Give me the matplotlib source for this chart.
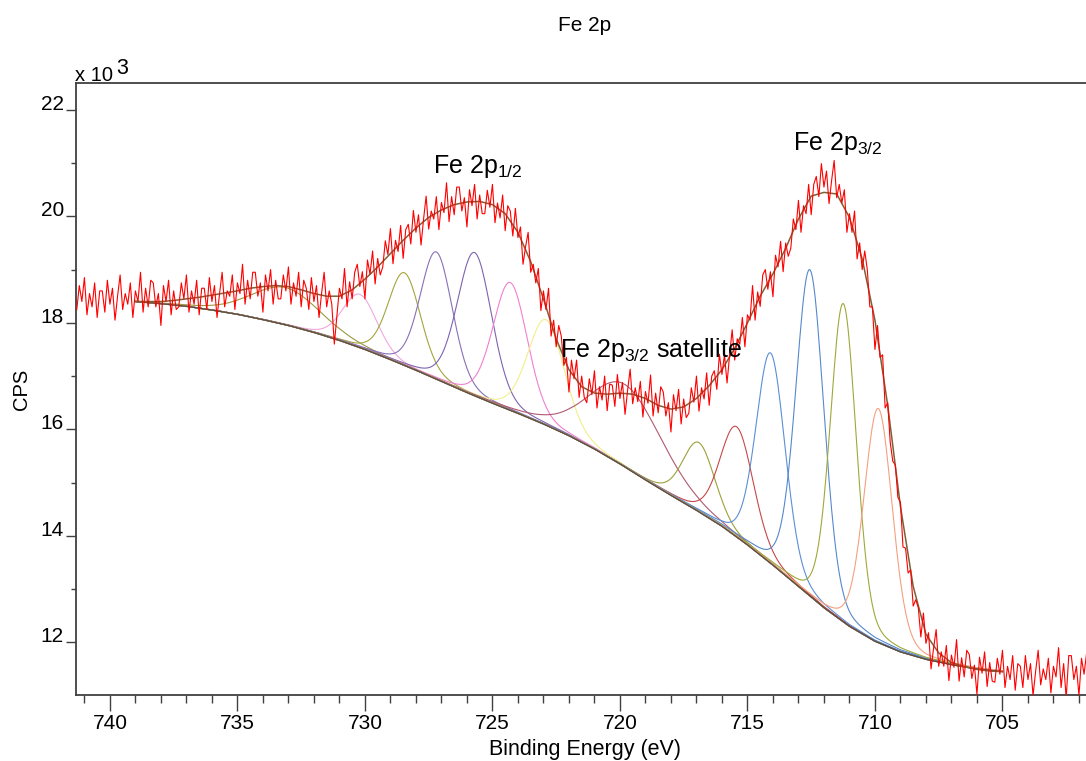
import numpy as np
import matplotlib.pyplot as plt
from matplotlib.ticker import MultipleLocator

plt.rcParams['font.family'] = ['Liberation Sans', 'DejaVu Sans']
plt.rcParams['mathtext.default'] = 'regular'

# ---- data (counts in units of 1000 CPS) ------------------------------------

# raw spectrum, one value every 0.1 eV starting at 741.3 eV (one row = 1 eV)
raw_start, raw_step = 741.3, 0.1
raw_cps = [
    18.25, 18.70, 18.40, 18.85, 18.15, 18.55, 18.30, 18.75, 18.10, 18.60,
    18.60, 18.20, 18.80, 18.35, 18.65, 18.05, 18.50, 18.90, 18.25, 18.55,
    18.35, 18.75, 18.10, 18.60, 18.40, 18.95, 18.20, 18.65, 18.30, 18.80,
    18.75, 18.30, 18.55, 17.95, 18.70, 18.40, 18.80, 18.15, 18.60, 18.25,
    18.30, 18.75, 18.45, 18.90, 18.20, 18.60, 18.35, 18.80, 18.15, 18.65,
    18.65, 18.25, 18.85, 18.40, 18.70, 18.10, 18.55, 18.95, 18.30, 18.60,
    18.50, 18.90, 18.25, 18.75, 18.55, 19.10, 18.35, 18.80, 18.45, 18.95,
    18.95, 18.50, 18.75, 18.20, 18.90, 18.60, 19.00, 18.35, 18.80, 18.45,
    18.45, 18.90, 18.60, 19.05, 18.35, 18.75, 18.50, 18.95, 18.30, 18.80,
    18.65, 18.25, 18.85, 18.40, 18.70, 18.10, 18.55, 18.95, 18.30, 18.60,
    18.35, 17.60, 18.12, 18.65, 18.45, 19.02, 18.30, 18.77, 18.45, 18.95,
    19.10, 18.68, 18.96, 18.45, 19.18, 18.91, 19.35, 18.73, 19.21, 18.90,
    19.05, 19.54, 19.28, 19.77, 19.11, 19.55, 19.34, 19.83, 19.21, 19.75,
    19.85, 19.48, 20.11, 19.70, 20.03, 19.46, 19.95, 20.38, 19.76, 20.10,
    19.95, 20.37, 19.75, 20.26, 20.07, 20.63, 19.90, 20.37, 20.03, 20.55,
    20.55, 20.10, 20.35, 19.80, 20.50, 20.20, 20.60, 19.95, 20.40, 20.05,
    20.05, 20.49, 20.17, 20.60, 19.88, 20.25, 19.97, 20.40, 19.73, 20.20,
    20.10, 19.63, 20.15, 19.60, 19.80, 19.10, 19.43, 19.70, 18.95, 19.10,
    18.75, 19.02, 18.23, 18.60, 18.25, 18.65, 17.75, 18.05, 17.55, 17.95,
    17.75, 17.20, 17.35, 16.70, 17.30, 16.95, 17.30, 16.60, 17.00, 16.60,
    16.50, 16.95, 16.65, 17.10, 16.40, 16.80, 16.55, 17.00, 16.35, 16.85,
    16.83, 16.43, 17.03, 16.58, 16.88, 16.28, 16.73, 17.13, 16.48, 16.78,
    16.52, 16.90, 16.23, 16.71, 16.49, 17.02, 16.25, 16.68, 16.31, 16.80,
    16.70, 16.25, 16.50, 15.95, 16.65, 16.35, 16.75, 16.10, 16.57, 16.22,
    16.30, 16.78, 16.51, 17.00, 16.34, 16.78, 16.57, 17.06, 16.45, 17.00,
    17.10, 16.75, 17.41, 17.03, 17.40, 16.87, 17.39, 17.87, 17.30, 17.70,
    17.60, 18.10, 17.55, 18.15, 18.05, 18.70, 18.05, 18.58, 18.31, 18.90,
    19.00, 18.63, 18.96, 18.49, 19.27, 19.05, 19.53, 18.96, 19.50, 19.25,
    19.40, 19.95, 19.75, 20.30, 19.70, 20.20, 20.05, 20.60, 20.03, 20.60,
    20.75, 20.37, 20.99, 20.55, 20.85, 20.24, 20.67, 21.05, 20.35, 20.60,
    20.25, 20.50, 19.70, 20.05, 19.70, 20.10, 19.20, 19.50, 19.00, 19.35,
    19.00, 18.30, 18.30, 17.50, 17.95, 17.35, 17.40, 16.40, 16.50, 15.75,
    15.40, 15.33, 14.72, 14.63, 13.79, 13.77, 13.30, 13.36, 12.68, 12.80,
    12.65, 12.10, 12.55, 11.98, 12.18, 11.50, 11.89, 12.24, 11.55, 11.82,
    11.55, 11.94, 11.28, 11.76, 11.53, 12.05, 11.27, 11.71, 11.35, 11.85,
    11.77, 11.32, 11.57, 11.02, 11.72, 11.42, 11.82, 11.17, 11.62, 11.27,
    11.25, 11.70, 11.40, 11.85, 11.15, 11.55, 11.30, 11.75, 11.10, 11.60,
    11.55, 11.15, 11.75, 11.30, 11.60, 11.00, 11.45, 11.85, 11.20, 11.50,
    11.30, 11.70, 11.05, 11.55, 11.35, 11.90, 11.15, 11.60, 10.95, 11.75,
    11.75, 11.30, 11.55, 11.00, 11.70, 11.40, 11.80, 11.15, 11.60, 11.25,
]

# Shirley background, 1 eV steps
bg_be = list(range(739, 704, -1))
bg_cps = [18.40, 18.36, 18.31, 18.24, 18.16, 18.06, 17.95, 17.82, 17.67, 17.50,
          17.31, 17.11, 16.90, 16.69, 16.49, 16.30, 16.10, 15.88, 15.63, 15.35,
          15.05, 14.76, 14.48, 14.18, 13.83, 13.45, 13.05, 12.65, 12.30, 12.02,
          11.82, 11.68, 11.58, 11.50, 11.45]

# fit envelope, 0.5 eV steps from 739 eV
env_start, env_step = 739.0, 0.5
env_cps = [18.40, 18.40, 18.40, 18.42, 18.45, 18.48, 18.52, 18.56, 18.60, 18.65,
           18.68, 18.70, 18.68, 18.62, 18.55, 18.50, 18.50, 18.62, 18.82, 19.05,
           19.30, 19.55, 19.78, 19.98, 20.12, 20.22, 20.27, 20.28, 20.22, 20.05,
           19.70, 19.15, 18.45, 17.70, 17.12, 16.80, 16.68, 16.66, 16.68, 16.66,
           16.58, 16.45, 16.38, 16.42, 16.58, 16.82, 17.12, 17.52, 18.00, 18.50,
           18.92, 19.40, 19.95, 20.38, 20.45, 20.42, 19.98, 19.20, 18.05, 16.45,
           14.55, 13.05, 12.15, 11.80, 11.62, 11.54, 11.49, 11.46, 11.45]

# fitted components: centre (eV), height above background, FWHM (eV)
comp_center = [733.1, 730.2, 728.45, 727.2, 725.7, 724.3, 722.9,
               719.8, 716.9, 715.42, 714.09, 712.55, 711.24, 709.87]
comp_height = [0.70, 1.00, 1.74, 2.39, 2.69, 2.40, 1.98,
               1.55, 1.30, 2.07, 3.95, 6.13, 5.98, 4.40]
comp_fwhm = [3.2, 1.6, 1.5, 1.5, 1.6, 1.6, 1.7,
             3.4, 1.5, 1.55, 1.35, 1.3, 1.2, 1.3]
comp_color = ['#9a9a40', '#f0a8e0', '#a4a43c', '#8870b8', '#7c64b0', '#f080d0', '#f2ee8a',
              '#b05a70', '#9ca03a', '#c84848', '#5b8ed6', '#5588cc', '#9fa83a', '#f4a080']

yticks = [12, 14, 16, 18, 20, 22]
xticks = [740, 735, 730, 725, 720, 715, 710, 705]


def gl_shape(x, c, fwhm, lfrac=0.2):
    t = (x - c) / fwhm
    return (1 - lfrac) * np.exp(-4 * np.log(2) * t**2) + lfrac / (1 + 4 * t**2)


raw_be = raw_start - raw_step * np.arange(len(raw_cps))
env_be = env_start - env_step * np.arange(len(env_cps))

fig = plt.figure(figsize=(10.86, 7.61), dpi=100)
ax = fig.add_axes([76 / 1086, 66 / 761, 1018 / 1086, 612.3 / 761])

# components sit on the background
grid = np.linspace(bg_be[0], bg_be[-1], 681)
base = np.interp(grid[::-1], bg_be[::-1], bg_cps[::-1])[::-1]
for c, h, w, col in zip(comp_center, comp_height, comp_fwhm, comp_color):
    ax.plot(grid, base + h * gl_shape(grid, c, w), color=col, lw=0.8, zorder=2)

ax.plot(bg_be, bg_cps, color='#5a5040', lw=1.0, zorder=3)
ax.plot(env_be, env_cps, color='#7a6238', lw=1.1, zorder=4)
ax.plot(raw_be, raw_cps, color='#ff0000', lw=0.8, zorder=5)

ax.set_xlim(741.33, 701.41)
ax.set_ylim(11.01, 22.51)
ax.set_xticks(xticks)
ax.set_yticks(yticks)
ax.xaxis.set_minor_locator(MultipleLocator(1))
ax.yaxis.set_minor_locator(MultipleLocator(1))
ax.tick_params(axis='x', which='major', length=11.5, width=1, color='#404040',
               labelsize=15, pad=2)
ax.tick_params(axis='x', which='minor', length=5.8, width=1, color='#404040')
ax.tick_params(axis='y', which='major', length=7.2, width=1, color='#404040',
               labelsize=15, pad=1.5)
ax.tick_params(axis='y', which='minor', length=3.6, width=1, color='#404040')
plt.setp(ax.get_yticklabels(), va='baseline')
for side in ['left', 'top', 'bottom']:
    ax.spines[side].set_color('#404040')
    ax.spines[side].set_linewidth(1.3)
ax.spines['right'].set_visible(False)

ax.text(727.33, 20.82, 'Fe 2p$_{1/2}$', fontsize=18, va='baseline', ha='left', zorder=6)
ax.text(713.22, 21.24, 'Fe 2p$_{3/2}$', fontsize=18, va='baseline', ha='left', zorder=6)
ax.text(722.35, 17.36, 'Fe 2p$_{3/2}$ satellite', fontsize=18, va='baseline', ha='left', zorder=6)

fig.text(585 / 1086, 1 - 30.7 / 761, 'Fe 2p', ha='center', va='baseline', fontsize=15)
fig.text(585 / 1086, 1 - 755 / 761, 'Binding Energy (eV)', ha='center', va='baseline', fontsize=15.5)
fig.text(21 / 1086, 1 - 389 / 761, 'CPS', ha='center', va='center', rotation=90, fontsize=14.5)
fig.text(75 / 1086, 1 - 80.7 / 761, 'x 10', ha='left', va='baseline', fontsize=14.5)
fig.text(116 / 1086, 1 - 74 / 761, '3', ha='left', va='baseline', fontsize=15.5)

fig.savefig('out.png', dpi=100)
